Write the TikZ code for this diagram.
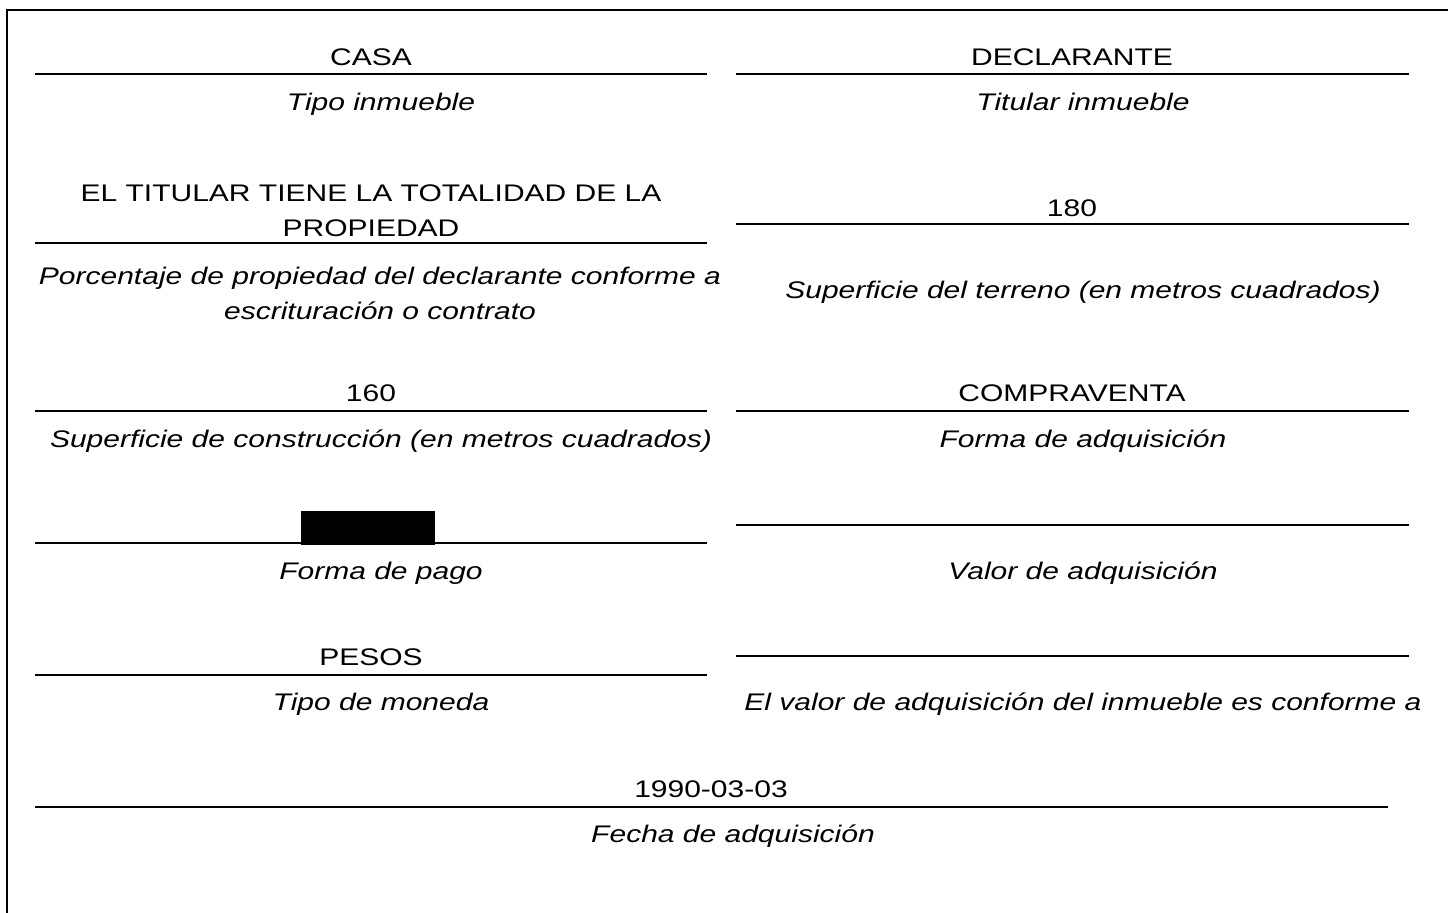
\documentclass[tikz,border=0pt]{standalone}
\usepackage{fontspec}
\setmainfont{Liberation Sans}[FakeStretch=1.25]
\begin{document}
\begin{tikzpicture}
[x=0.5pt,y=-0.5pt,
 every node/.style={inner sep=0pt,outer sep=0pt,anchor=base,font=\fontsize{12}{17.5}\selectfont},
 val/.style={},
 lbl/.style={font=\fontsize{12}{17.5}\selectfont\itshape},
 rule/.style={line width=0.7pt}]
\useasboundingbox (0,0) rectangle (1448,913);
\draw[line width=1pt] (7,913) -- (7,10) -- (1448,10);
% left column
\node[val] (tipo)     at (371,66)  {CASA};
\node[lbl] (tipoL)    at (381,111) {Tipo inmueble};
\node[val,align=center,anchor=center] (porc) at (371,211) {EL TITULAR TIENE LA TOTALIDAD DE LA\\PROPIEDAD};
\node[lbl,align=center,anchor=center] (porcL) at (380,293) {Porcentaje de propiedad del declarante conforme a\\escrituración o contrato};
\node[val] (constr)   at (371,402) {160};
\node[lbl] (constrL)  at (381,448) {Superficie de construcción (en metros cuadrados)};
\fill (301,511) rectangle (435,545);
\node[lbl] (pagoL)    at (381,580) {Forma de pago};
\node[val] (moneda)   at (371,666) {PESOS};
\node[lbl] (monedaL)  at (381,711) {Tipo de moneda};
\draw[rule] (35,74)  -- (707,74);
\draw[rule] (35,243) -- (707,243);
\draw[rule] (35,411) -- (707,411);
\draw[rule] (35,543) -- (707,543);
\draw[rule] (35,675) -- (707,675);
% right column
\node[val] (titular)  at (1072,66)  {DECLARANTE};
\node[lbl] (titularL) at (1083,111) {Titular inmueble};
\node[val] (terreno)  at (1072,217) {180};
\node[lbl] (terrenoL) at (1083,299) {Superficie del terreno (en metros cuadrados)};
\node[val] (forma)    at (1072,402) {COMPRAVENTA};
\node[lbl] (formaL)   at (1083,448) {Forma de adquisición};
\node[lbl] (valorL)   at (1083,580) {Valor de adquisición};
\node[lbl] (confL)    at (1083,711) {El valor de adquisición del inmueble es conforme a};
\draw[rule] (736,74)  -- (1409,74);
\draw[rule] (736,224) -- (1409,224);
\draw[rule] (736,411) -- (1409,411);
\draw[rule] (736,525) -- (1409,525);
\draw[rule] (736,656) -- (1409,656);
% bottom
\node[val] (fecha)    at (711,798) {1990-03-03};
\node[lbl] (fechaL)   at (733,843) {Fecha de adquisición};
\draw[rule] (35,807) -- (1388,807);
\end{tikzpicture}
\end{document}
